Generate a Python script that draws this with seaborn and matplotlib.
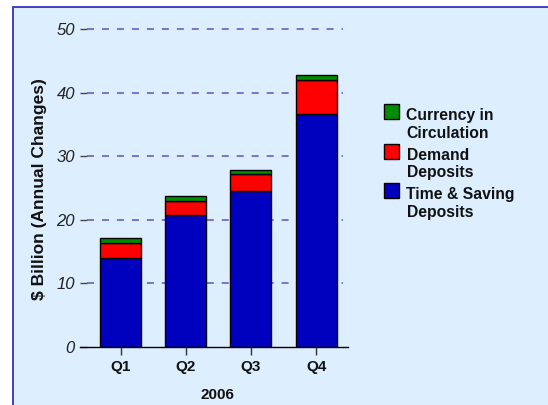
import matplotlib
matplotlib.use("Agg")
import matplotlib.pyplot as plt
from matplotlib.patches import Rectangle
import numpy as np
import pandas as pd
import seaborn as sns

# ---- data ----
quarters = ["Q1", "Q2", "Q3", "Q4"]
time_saving = [13.9, 20.7, 24.5, 36.6]
demand = [2.4, 2.2, 2.7, 5.4]
currency = [0.9, 0.8, 0.7, 0.75]
series_labels = ["Currency in\nCirculation", "Demand\nDeposits", "Time & Saving\nDeposits"]
series_colors = ["#008C00", "#FF0000", "#0000BF"]
yticks = [0, 10, 20, 30, 40, 50]
xlabel = "2006"
ylabel = "$ Billion (Annual Changes)"

sns.set_theme(style="white")
plt.rcParams["font.family"] = ["Liberation Sans", "DejaVu Sans"]

W, H = 548, 405
fig = plt.figure(figsize=(W / 100, H / 100), dpi=100)
fig.patch.set_facecolor("white")

def fx(px):
    return px / W

def fy(py):
    return 1 - py / H

# background panel with border
bg = Rectangle((fx(13), -0.1), 1.2, fy(7) + 0.1, transform=fig.transFigure,
               facecolor="#DDEEFF", edgecolor="#3333BB", linewidth=1.3, zorder=-10)
fig.patches.append(bg)

ax = fig.add_axes([fx(80), fy(346.7), fx(348) - fx(80), fy(29.3) - fy(346.7)])
ax.set_facecolor("none")
ax.set_zorder(2)

df = pd.DataFrame({"quarter": quarters, "time": time_saving,
                   "demand": demand, "currency": currency})
b2 = np.array(time_saving)
b3 = b2 + np.array(demand)

common = dict(x="quarter", order=quarters, ax=ax, width=0.63, saturation=1,
              edgecolor="black", linewidth=1.0, errorbar=None, zorder=3)
sns.barplot(data=df, y="time", color=series_colors[2], **common)
sns.barplot(data=df, y="demand", color=series_colors[1], bottom=b2, **common)
sns.barplot(data=df, y="currency", color=series_colors[0], bottom=b3, **common)

ax.set_xlim(-0.625, 3.49)
ax.set_ylim(0, 50)

# dashed gridlines
ax.hlines(yticks[1:], 7 / 268, 263 / 268, transform=ax.get_yaxis_transform(),
          colors="#6252BE", linewidth=1.1, linestyles=(0, (4.6, 5.2)), zorder=1,
          clip_on=False)

for s in ["left", "top", "right"]:
    ax.spines[s].set_visible(False)
ax.spines["bottom"].set_color("black")
ax.spines["bottom"].set_linewidth(1.0)
ax.spines["bottom"].set_zorder(4)

ax.set_yticks(yticks)
ax.set_yticklabels([str(v) for v in yticks], fontsize=12, style="italic", color="#222222")
ax.tick_params(axis="y", direction="in", length=5.2, width=1.0, color="#444444", pad=3.6, left=True)
ax.tick_params(axis="x", direction="out", length=5.8, width=1.0, color="#333333", pad=4, bottom=True)
for t in ax.get_xticklabels():
    t.set_fontweight("bold")
    t.set_fontsize(11)
    t.set_color("#111111")

ax.set_xlabel(xlabel, fontsize=11, fontweight="bold", color="#111111")
ax.xaxis.set_label_coords((217 - 80) / 268, -(395 - 346.7) / 317.4)
ax.xaxis.label.set_va("center")
ax.set_ylabel(ylabel, fontsize=12.5, fontweight="bold", color="#111111")
ax.yaxis.set_label_coords((40 - 80) / 268, (346.7 - 189) / 317.4)
ax.yaxis.label.set_va("center")

# legend (manual, patch aligned with first line)
for i, (lab, col) in enumerate(zip(series_labels, series_colors)):
    top = 104 + 39.7 * i
    fig.patches.append(Rectangle((fx(384), fy(top + 15)), fx(15), fy(top) - fy(top + 15),
                                 transform=fig.transFigure, facecolor=col,
                                 edgecolor="black", linewidth=1.0, zorder=5))
    for j, line in enumerate(lab.split("\n")):
        fig.text(fx(406.5), fy(120 + 39.7 * i + 17.5 * j), line, fontsize=11.3,
                 fontweight="bold", color="#111111", va="baseline", ha="left")

fig.savefig("out.png", dpi=100, facecolor=fig.get_facecolor())
